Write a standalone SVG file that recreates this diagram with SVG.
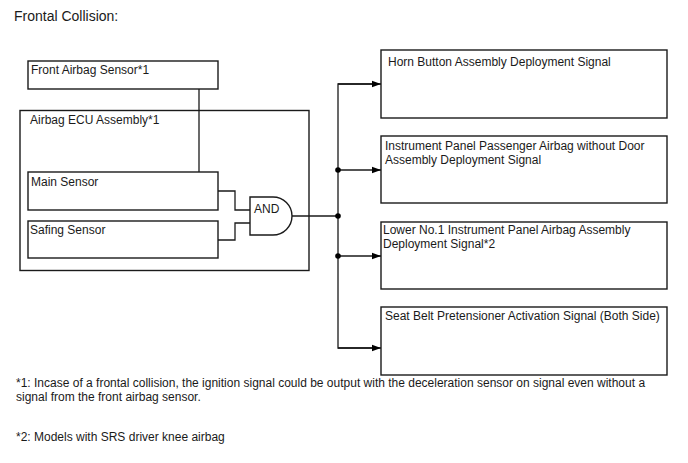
<svg xmlns="http://www.w3.org/2000/svg" width="688" height="463" viewBox="0 0 688 463">
<defs>
<style>
.box{fill:#fff;stroke:#1a1a1a;stroke-width:1.4}
.ln{fill:none;stroke:#1a1a1a;stroke-width:1.3}
text{font-family:"Liberation Sans",Arial,sans-serif;font-size:12px;fill:#1a1a1a}
.title{font-size:14px}
.dot{fill:#000}
</style>
<marker id="arr" markerWidth="10" markerHeight="8" refX="9" refY="4" orient="auto" markerUnits="userSpaceOnUse">
<path d="M0,0.8 L9,4 L0,7.2 Z" fill="#000"/>
</marker>
</defs>
<rect width="688" height="463" fill="#fff"/>
<text class="title" x="14" y="21">Frontal Collision:</text>

<g id="ecu">
<rect class="box" x="20" y="110.5" width="289" height="160"/>
<text x="30" y="124">Airbag ECU Assembly*1</text>
</g>
<g id="front-sensor">
<rect class="box" x="28" y="61" width="190" height="28"/>
<text x="31" y="74">Front Airbag Sensor*1</text>
</g>
<g id="main-sensor">
<rect class="box" x="28" y="172" width="190" height="38"/>
<text x="31" y="186">Main Sensor</text>
</g>
<g id="safing-sensor">
<rect class="box" x="28" y="221" width="190" height="37"/>
<text x="30" y="234">Safing Sensor</text>
</g>
<g id="and-gate">
<path class="box" d="M250,197 H273 A19,19 0 0 1 273,235 H250 Z"/>
<text x="254" y="213">AND</text>
</g>
<g id="horn">
<rect class="box" x="381" y="50" width="286" height="68"/>
<text x="388" y="66">Horn Button Assembly Deployment Signal</text>
</g>
<g id="ip-passenger">
<rect class="box" x="381" y="136" width="286" height="67"/>
<text x="385" y="150">Instrument Panel Passenger Airbag without Door</text>
<text x="385" y="164">Assembly Deployment Signal</text>
</g>
<g id="lower-no1">
<rect class="box" x="381" y="222" width="286" height="67"/>
<text x="383" y="234">Lower No.1 Instrument Panel Airbag Assembly</text>
<text x="383" y="248">Deployment Signal*2</text>
</g>
<g id="seat-belt">
<rect class="box" x="381" y="307" width="286" height="68"/>
<text x="385" y="320">Seat Belt Pretensioner Activation Signal (Both Side)</text>
</g>

<g id="connectors">
<path class="ln" d="M199,89 V172"/>
<path class="ln" d="M218,191 H235 V210 H250"/>
<path class="ln" d="M218,240 H235 V223 H250"/>
<path class="ln" d="M292,216 H338"/>
<path class="ln" d="M372,84 H338 V348 H372"/>
<path class="ln" d="M338,84 H381" marker-end="url(#arr)"/>
<path class="ln" d="M338,170 H381" marker-end="url(#arr)"/>
<path class="ln" d="M338,256 H381" marker-end="url(#arr)"/>
<path class="ln" d="M338,348 H381" marker-end="url(#arr)"/>
<circle class="dot" cx="338" cy="170" r="2.8"/>
<circle class="dot" cx="338" cy="216" r="2.8"/>
<circle class="dot" cx="338" cy="256" r="2.8"/>
</g>

<text x="16" y="387">*1: Incase of a frontal collision, the ignition signal could be output with the deceleration sensor on signal even without a</text>
<text x="16" y="401">signal from the front airbag sensor.</text>
<text x="16" y="441">*2: Models with SRS driver knee airbag</text>
</svg>
